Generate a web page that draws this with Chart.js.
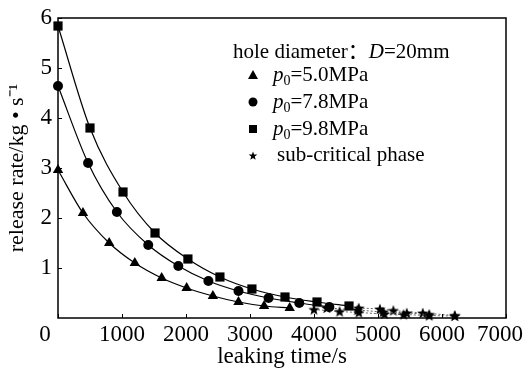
<!DOCTYPE html>
<html>
<head>
<meta charset="utf-8">
<script src="https://cdn.jsdelivr.net/npm/chart.js@4"></script>
<style>
  html, body { margin: 0; padding: 0; background: #fff; }
  #wrap { width: 525px; height: 368px; }
</style>
</head>
<body>
<div id="wrap"><canvas id="myChart" width="525" height="368"></canvas></div>
<script>
// leaking time (s) and release rate (kg/s)
var time50 = [0, 390, 800, 1200, 1620, 2010, 2420, 2820, 3220, 3620];
var rate50 = [2.96, 2.1, 1.5, 1.1, 0.8, 0.6, 0.44, 0.32, 0.24, 0.2];
var time78 = [0, 470, 920, 1410, 1880, 2350, 2820, 3290, 3770, 4240];
var rate78 = [4.64, 3.1, 2.12, 1.46, 1.04, 0.74, 0.54, 0.4, 0.3, 0.22];
var time98 = [0, 500, 1016, 1516, 2030, 2530, 3030, 3547, 4047, 4547];
var rate98 = [5.84, 3.8, 2.52, 1.7, 1.18, 0.82, 0.58, 0.42, 0.32, 0.24];

// sub-critical phase (stars), one tail per pressure
var subTime50 = [4000, 4400, 4700, 5100, 5400, 5800, 6200];
var subRate50 = [0.17, 0.13, 0.11, 0.08, 0.07, 0.05, 0.04];
var subTime78 = [4200, 4680, 5080, 5450, 5800];
var subRate78 = [0.2, 0.16, 0.12, 0.1, 0.07];
var subTime98 = [4700, 5030, 5240, 5700, 6200];
var subRate98 = [0.2, 0.18, 0.15, 0.1, 0.05];

var xTicks = [0, 1000, 2000, 3000, 4000, 5000, 6000, 7000];
var yTicks = [1, 2, 3, 4, 5, 6];

var legendTitle = ["hole diameter\uFF1A", "D", "=20mm"];
var legendLabels = ["=5.0MPa", "=7.8MPa", "=9.8MPa", "sub-critical phase"];

var serif = "'Liberation Serif', 'Noto Sans CJK SC', 'Times New Roman', serif";

function pts(xs, ys) {
    var out = [];
    for (var i = 0; i < xs.length; i++) out.push({ x: xs[i], y: ys[i] });
    return out;
}

function starPath(ctx, cx, cy, r) {
    ctx.beginPath();
    for (var i = 0; i < 10; i++) {
        var rr = i % 2 == 0 ? r : r * 0.42;
        var a = -Math.PI / 2 + i * Math.PI / 5;
        var px = cx + rr * Math.cos(a), py = cy + rr * Math.sin(a);
        if (i == 0) ctx.moveTo(px, py); else ctx.lineTo(px, py);
    }
    ctx.closePath();
}

var starImg = document.createElement("canvas");
starImg.width = 12;
starImg.height = 12;
(function () {
    var c = starImg.getContext("2d");
    c.fillStyle = "#000";
    starPath(c, 6, 6.5, 6);
    c.fill();
})();

function solid(xs, ys, style, r) {
    return {
        data: pts(xs, ys),
        showLine: true,
        borderColor: "#000",
        borderWidth: 1.2,
        backgroundColor: "#000",
        pointStyle: style,
        pointRadius: r,
        pointBorderWidth: 0,
        cubicInterpolationMode: "monotone",
        clip: false
    };
}

function dotted(xs, ys) {
    return {
        data: pts(xs, ys),
        showLine: true,
        borderColor: "#666",
        borderWidth: 1,
        borderDash: [2, 2],
        backgroundColor: "#000",
        pointStyle: starImg,
        pointRadius: 6,
        cubicInterpolationMode: "monotone",
        clip: false
    };
}

var frame = {
    id: "frame",
    afterDatasetsDraw(chart) {
        var ctx = chart.ctx, a = chart.chartArea;
        var xs = chart.scales.x, ys = chart.scales.y;
        ctx.save();
        ctx.strokeStyle = "#000";
        ctx.lineWidth = 1.5;
        ctx.strokeRect(a.left, a.top, a.right - a.left, a.bottom - a.top);
        ctx.lineWidth = 1;
        ctx.beginPath();
        xTicks.forEach(function (v) {
            var px = Math.round(xs.getPixelForValue(v)) + 0.5;
            ctx.moveTo(px, a.bottom);
            ctx.lineTo(px, a.bottom - 4);
        });
        yTicks.forEach(function (v) {
            var py = Math.round(ys.getPixelForValue(v)) + 0.5;
            ctx.moveTo(a.left, py);
            ctx.lineTo(a.left + 4, py);
        });
        ctx.stroke();

        // x tick labels: first one sits left of the corner, last one pulled in
        ctx.fillStyle = "#000";
        ctx.font = "23px " + serif;
        ctx.textAlign = "center";
        ctx.textBaseline = "middle";
        xTicks.forEach(function (v, i) {
            var px = xs.getPixelForValue(v);
            if (i == 0) px -= 13;
            if (i == xTicks.length - 1) px -= 6;
            ctx.fillText(String(v), px, a.bottom + 17);
        });

        // legend
        ctx.textAlign = "left";
        ctx.textBaseline = "alphabetic";
        var x0 = 233, y0 = 58;
        ctx.font = "21px " + serif;
        var w = 0;
        ctx.fillText(legendTitle[0], x0, y0);
        w += ctx.measureText(legendTitle[0]).width;
        ctx.font = "italic 21px " + serif;
        ctx.fillText(legendTitle[1], x0 + w, y0);
        w += ctx.measureText(legendTitle[1]).width;
        ctx.font = "21px " + serif;
        ctx.fillText(legendTitle[2], x0 + w, y0);

        var rows = [81, 108, 135, 161];
        var mx = 253;
        for (var i = 0; i < 4; i++) {
            var my = rows[i] - 6;
            ctx.beginPath();
            if (i == 0) {
                ctx.moveTo(mx, my - 5); ctx.lineTo(mx + 5, my + 4); ctx.lineTo(mx - 5, my + 4);
                ctx.closePath(); ctx.fill();
            } else if (i == 1) {
                ctx.arc(mx, my, 4.5, 0, Math.PI * 2); ctx.fill();
            } else if (i == 2) {
                ctx.fillRect(mx - 4, my - 4, 8, 8);
            } else {
                starPath(ctx, mx, my + 1, 4.5); ctx.fill();
            }
            if (i < 3) {
                ctx.font = "italic 21px " + serif;
                ctx.fillText("p", 273, rows[i]);
                var pw = ctx.measureText("p").width;
                ctx.font = "14px " + serif;
                ctx.fillText("0", 273 + pw, rows[i] + 4);
                var sw = ctx.measureText("0").width;
                ctx.font = "21px " + serif;
                ctx.fillText(legendLabels[i], 273 + pw + sw, rows[i]);
            } else {
                ctx.font = "21px " + serif;
                ctx.fillText(legendLabels[i], 277, rows[i]);
            }
        }
        ctx.restore();
    }
};

new Chart("myChart", {
    type: "scatter",
    data: {
        datasets: [
            solid(time50, rate50, "triangle", 6),
            solid(time78, rate78, "circle", 5),
            solid(time98, rate98, "rect", 6.5),
            dotted(subTime50, subRate50),
            dotted(subTime78, subRate78),
            dotted(subTime98, subRate98)
        ]
    },
    options: {
        responsive: false,
        animation: false,
        layout: { padding: { top: 18, right: 19, left: 0, bottom: 0 } },
        plugins: { legend: { display: false }, tooltip: { enabled: false } },
        scales: {
            x: {
                type: "linear",
                min: 0,
                max: 7000,
                afterBuildTicks(s) { s.ticks = xTicks.map(function (v) { return { value: v }; }); },
                afterFit(s) { s.height = 50; s.paddingLeft = 0; s.paddingRight = 0; },
                grid: { display: false, drawTicks: false },
                border: { display: false },
                ticks: { display: false },
                title: { display: true, text: "leaking time/s", color: "#000", padding: 0, font: { family: serif, size: 23, lineHeight: 1.0 } }
            },
            y: {
                min: 0,
                max: 6,
                afterBuildTicks(s) { s.ticks = yTicks.map(function (v) { return { value: v }; }); },
                afterFit(s) { s.width = 58; s.paddingTop = 0; s.paddingBottom = 0; },
                grid: { display: false, drawTicks: false },
                border: { display: false },
                ticks: { color: "#000", padding: 6, font: { family: serif, size: 23 } },
                title: { display: true, text: "release rate/kg \u2022 s\u207B\u00B9", color: "#000", padding: { top: 4, bottom: 0 }, font: { family: serif, size: 22 } }
            }
        }
    },
    plugins: [frame]
});
</script>
</body>
</html>
